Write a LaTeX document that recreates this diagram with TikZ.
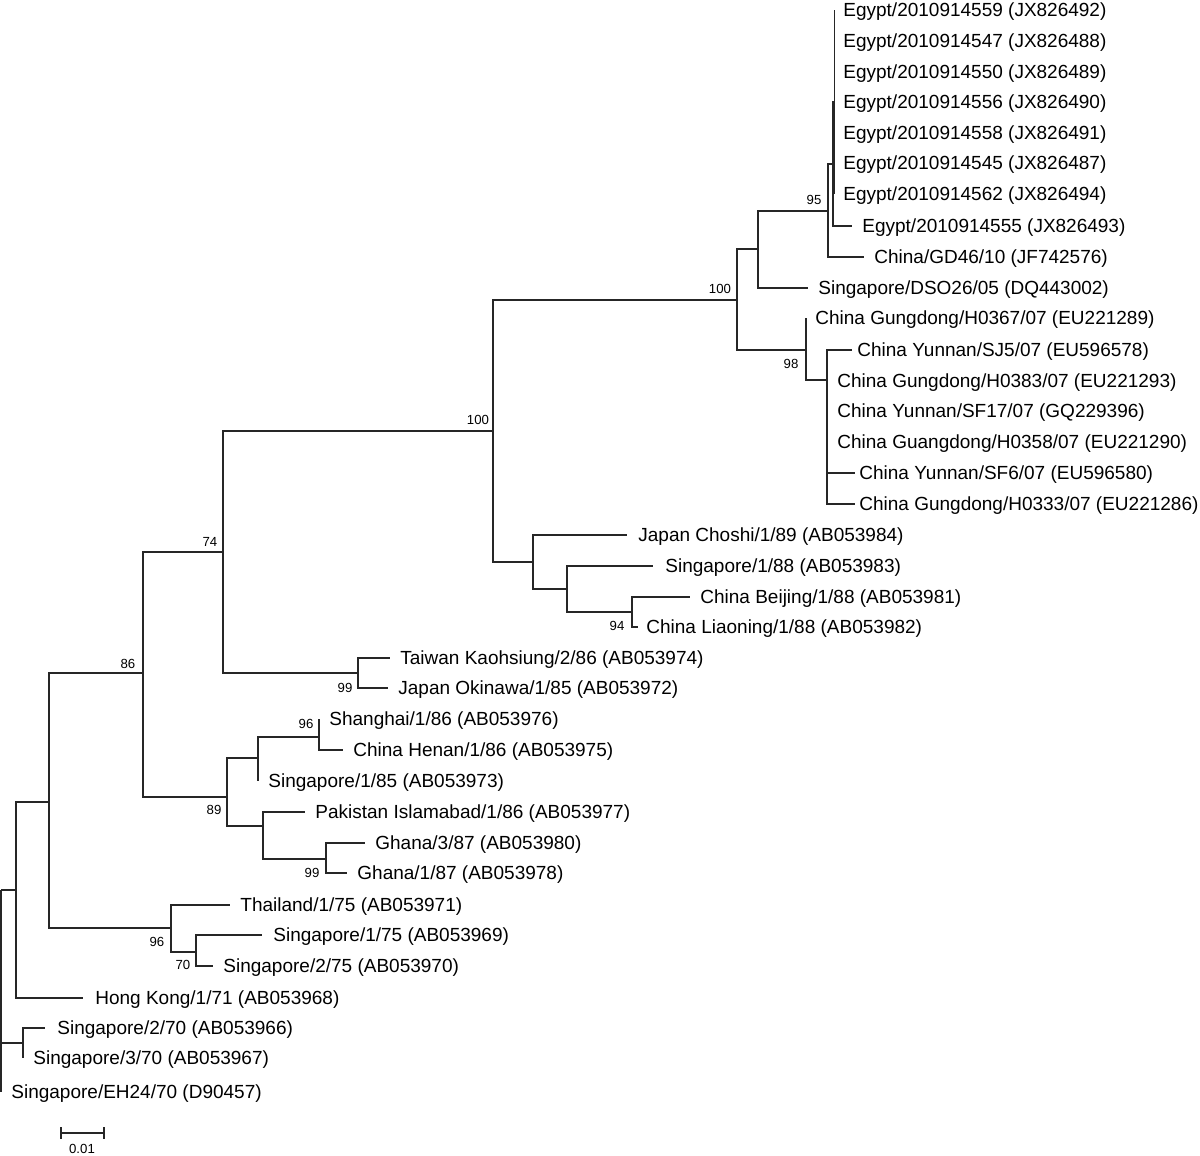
\documentclass[tikz,border=0pt]{standalone}
\usepackage{fontspec}
\setmainfont{Liberation Sans}
\begin{document}
\begin{tikzpicture}[x=0.5pt,y=-0.5pt,
  br/.style={line width=0.8pt, draw=black!85},
  leaf/.style={anchor=west, inner sep=0pt, font=\fontsize{9.5pt}{11pt}\selectfont, text height=6.8pt, text depth=0pt},
  bs/.style={inner sep=0pt, font=\fontsize{6.6pt}{8pt}\selectfont}]
\useasboundingbox (0,0) rectangle (1200,1156);
% internal nodes
\coordinate (r) at (1,890);
\coordinate (A) at (16,890);
\coordinate (B) at (23,1043);
\coordinate (C) at (49,802);
\coordinate (n86) at (143,673);
\coordinate (n74) at (223,552);
\coordinate (n100a) at (493,431);
\coordinate (n100b) at (737,300);
\coordinate (D) at (758,249);
\coordinate (n95) at (828,211);
\coordinate (E) at (833,164);
\coordinate (F) at (834.5,102);
\coordinate (n98) at (806,350);
\coordinate (G) at (827,380);
\coordinate (J) at (533,562);
\coordinate (K) at (567,589);
\coordinate (n94) at (632,612);
\coordinate (n99a) at (358,673);
\coordinate (n89) at (227,797);
\coordinate (L) at (258,758);
\coordinate (n96a) at (319,737);
\coordinate (M) at (263,826);
\coordinate (n99b) at (326,859);
\coordinate (n96b) at (171,928);
\coordinate (n70) at (196,952);
% tips
\coordinate (e1) at (834.5,10);
\coordinate (e2) at (834.5,41);
\coordinate (e3) at (834.5,72);
\coordinate (e4) at (834.5,102);
\coordinate (e5) at (834.5,133);
\coordinate (e6) at (834.5,163);
\coordinate (e7) at (834.5,194);
\coordinate (e8) at (852,226);
\coordinate (gd46) at (864,257);
\coordinate (dso) at (808,288);
\coordinate (h0367) at (806,318);
\coordinate (sj5) at (852,350);
\coordinate (h0383) at (827,381);
\coordinate (sf17) at (827,411);
\coordinate (h0358) at (827,442);
\coordinate (sf6) at (855,473);
\coordinate (h0333) at (855,504);
\coordinate (choshi) at (627,535);
\coordinate (s188) at (653,566);
\coordinate (beijing) at (690,597);
\coordinate (liaoning) at (638,627);
\coordinate (taiwan) at (390,658);
\coordinate (okinawa) at (388,688);
\coordinate (shanghai) at (319,719);
\coordinate (henan) at (343,750);
\coordinate (s185) at (258,781);
\coordinate (pakistan) at (305,812);
\coordinate (ghana3) at (365,843);
\coordinate (ghana1) at (347,873);
\coordinate (thailand) at (230,905);
\coordinate (s175) at (262,935);
\coordinate (s275) at (213,966);
\coordinate (hk) at (83,998);
\coordinate (s270) at (45,1028);
\coordinate (s370) at (23,1058);
\coordinate (eh24) at (1,1092);
% branches
\draw[br] (r) |- (A); \draw[br] (r) |- (B); \draw[br] (r) |- (eh24);
\draw[br] (A) |- (C); \draw[br] (A) |- (hk);
\draw[br] (B) |- (s270); \draw[br] (B) |- (s370);
\draw[br] (C) |- (n86); \draw[br] (C) |- (n96b);
\draw[br] (n86) |- (n74); \draw[br] (n86) |- (n89);
\draw[br] (n74) |- (n100a); \draw[br] (n74) |- (n99a);
\draw[br] (n100a) |- (n100b); \draw[br] (n100a) |- (J);
\draw[br] (n100b) |- (D); \draw[br] (n100b) |- (n98);
\draw[br] (D) |- (n95); \draw[br] (D) |- (dso);
\draw[br] (n95) |- (E); \draw[br] (n95) |- (gd46);
\draw[br] (E) |- (F); \draw[br] (E) |- (e8);
\foreach \t in {e1,e2,e3,e4,e5,e6,e7} \draw[br] (F) |- (\t);
\draw[br] (n98) |- (h0367); \draw[br] (n98) |- (G);
\foreach \t in {sj5,h0383,sf17,h0358,sf6,h0333} \draw[br] (G) |- (\t);
\draw[br] (J) |- (choshi); \draw[br] (J) |- (K);
\draw[br] (K) |- (s188); \draw[br] (K) |- (n94);
\draw[br] (n94) |- (beijing); \draw[br] (n94) |- (liaoning);
\draw[br] (n99a) |- (taiwan); \draw[br] (n99a) |- (okinawa);
\draw[br] (n89) |- (L); \draw[br] (n89) |- (M);
\draw[br] (L) |- (n96a); \draw[br] (L) |- (s185);
\draw[br] (n96a) |- (shanghai); \draw[br] (n96a) |- (henan);
\draw[br] (M) |- (pakistan); \draw[br] (M) |- (n99b);
\draw[br] (n99b) |- (ghana3); \draw[br] (n99b) |- (ghana1);
\draw[br] (n96b) |- (thailand); \draw[br] (n96b) |- (n70);
\draw[br] (n70) |- (s175); \draw[br] (n70) |- (s275);
% leaf labels
\node[leaf] (te1) at (843,10) {Egypt/2010914559 (JX826492)};
\node[leaf] (te2) at (843,41) {Egypt/2010914547 (JX826488)};
\node[leaf] (te3) at (843,72) {Egypt/2010914550 (JX826489)};
\node[leaf] (te4) at (843,102) {Egypt/2010914556 (JX826490)};
\node[leaf] (te5) at (843,133) {Egypt/2010914558 (JX826491)};
\node[leaf] (te6) at (843,163) {Egypt/2010914545 (JX826487)};
\node[leaf] (te7) at (843,194) {Egypt/2010914562 (JX826494)};
\node[leaf] (te8) at (862,226) {Egypt/2010914555 (JX826493)};
\node[leaf] (tgd46) at (874,257) {China/GD46/10 (JF742576)};
\node[leaf] (tdso) at (818,288) {Singapore/DSO26/05 (DQ443002)};
\node[leaf] (th0367) at (815,318) {China Gungdong/H0367/07 (EU221289)};
\node[leaf] (tsj5) at (857,350) {China Yunnan/SJ5/07 (EU596578)};
\node[leaf] (th0383) at (837,381) {China Gungdong/H0383/07 (EU221293)};
\node[leaf] (tsf17) at (837,411) {China Yunnan/SF17/07 (GQ229396)};
\node[leaf] (th0358) at (837,442) {China Guangdong/H0358/07 (EU221290)};
\node[leaf] (tsf6) at (859,473) {China Yunnan/SF6/07 (EU596580)};
\node[leaf] (th0333) at (859,504) {China Gungdong/H0333/07 (EU221286)};
\node[leaf] (tchoshi) at (638,535) {Japan Choshi/1/89 (AB053984)};
\node[leaf] (ts188) at (665,566) {Singapore/1/88 (AB053983)};
\node[leaf] (tbeijing) at (700,597) {China Beijing/1/88 (AB053981)};
\node[leaf] (tliaoning) at (646,627) {China Liaoning/1/88 (AB053982)};
\node[leaf] (ttaiwan) at (400,658) {Taiwan Kaohsiung/2/86 (AB053974)};
\node[leaf] (tokinawa) at (398,688) {Japan Okinawa/1/85 (AB053972)};
\node[leaf] (tshanghai) at (329,719) {Shanghai/1/86 (AB053976)};
\node[leaf] (thenan) at (353,750) {China Henan/1/86 (AB053975)};
\node[leaf] (ts185) at (268,781) {Singapore/1/85 (AB053973)};
\node[leaf] (tpakistan) at (315,812) {Pakistan Islamabad/1/86 (AB053977)};
\node[leaf] (tghana3) at (375,843) {Ghana/3/87 (AB053980)};
\node[leaf] (tghana1) at (357,873) {Ghana/1/87 (AB053978)};
\node[leaf] (tthailand) at (240,905) {Thailand/1/75 (AB053971)};
\node[leaf] (ts175) at (273,935) {Singapore/1/75 (AB053969)};
\node[leaf] (ts275) at (223,966) {Singapore/2/75 (AB053970)};
\node[leaf] (thk) at (95,998) {Hong Kong/1/71 (AB053968)};
\node[leaf] (ts270) at (57,1028) {Singapore/2/70 (AB053966)};
\node[leaf] (ts370) at (33,1058) {Singapore/3/70 (AB053967)};
\node[leaf] (teh24) at (11,1092) {Singapore/EH24/70 (D90457)};
% bootstrap values
\node[bs] (b86) at (128,664) {86};
\node[bs] (b74) at (210,542) {74};
\node[bs] (b100a) at (478,420) {100};
\node[bs] (b100b) at (720,289) {100};
\node[bs] (b95) at (814,200) {95};
\node[bs] (b98) at (791,364) {98};
\node[bs] (b94) at (617,626) {94};
\node[bs] (b99a) at (345,688) {99};
\node[bs] (b96a) at (306,724) {96};
\node[bs] (b89) at (214,810) {89};
\node[bs] (b99b) at (312,873) {99};
\node[bs] (b96b) at (157,942) {96};
\node[bs] (b70) at (183,965) {70};
% scale bar
\coordinate (sb1) at (61,1133);
\coordinate (sb2) at (104,1133);
\draw[br] (sb1) -- (sb2);
\draw[br] (sb1) ++(0,-6) -- ++(0,12);
\draw[br] (sb2) ++(0,-6) -- ++(0,12);
\node[bs] (sbl) at (82,1149) {0.01};
\end{tikzpicture}
\end{document}
